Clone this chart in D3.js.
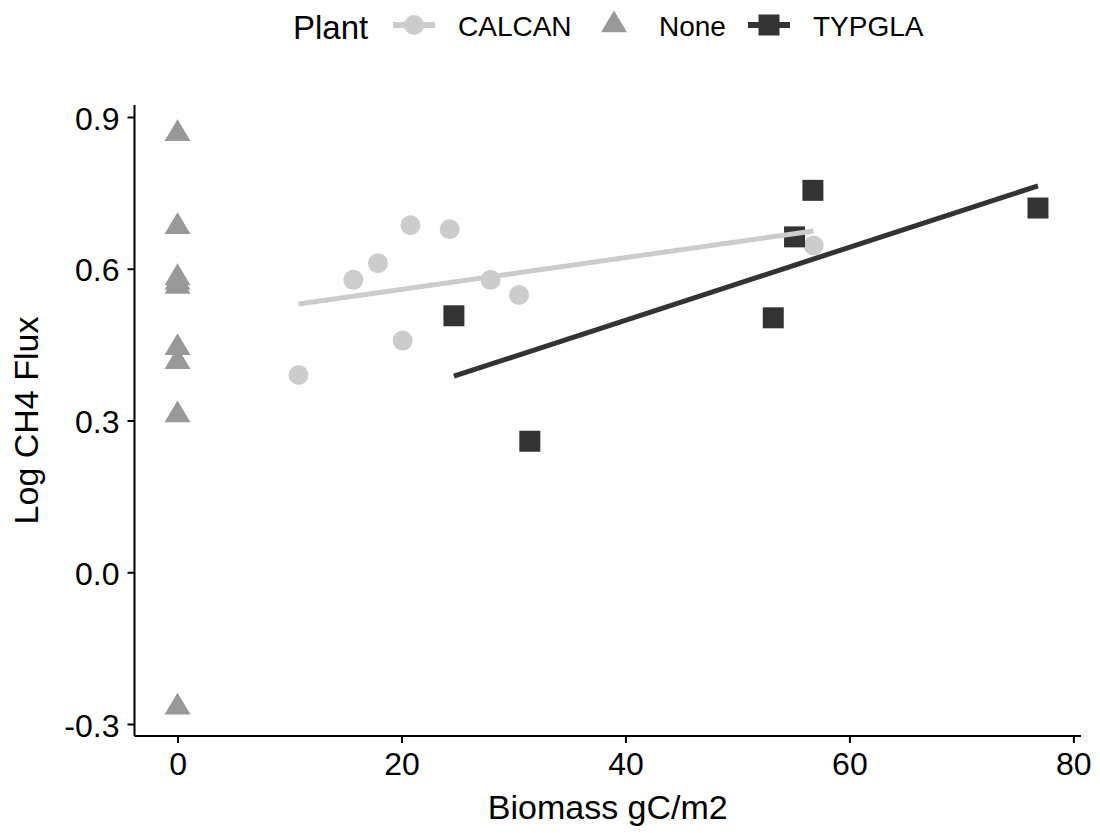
<!DOCTYPE html>
<html>
<head>
<meta charset="utf-8">
<script src="https://cdn.jsdelivr.net/npm/d3@7"></script>
<style>
  html, body { margin: 0; padding: 0; background: #fff; }
  svg text { font-family: "Liberation Sans", Arial, Helvetica, sans-serif; fill: #000; }
</style>
</head>
<body>
<svg id="chart" width="1100" height="833"></svg>
<script>
// Plant groups and their styling keys
const plants = ["CALCAN", "None", "TYPGLA"];
const plantColors = ["#cccccc", "#989898", "#333333"];

// CALCAN observations
const calcanBiomass = [10.8, 15.7, 17.9, 20.1, 20.8, 24.3, 27.96, 30.5, 56.8];
const calcanFlux    = [0.390, 0.578, 0.611, 0.458, 0.686, 0.678, 0.578, 0.548, 0.646];

// Unvegetated (None) observations
const noneBiomass = [0, 0, 0, 0, 0, 0, 0, 0, 0];
const noneFlux    = [0.867, 0.683, 0.582, 0.573, 0.565, 0.444, 0.416, 0.311, -0.267];

// TYPGLA observations
const typglaBiomass = [24.68, 31.46, 53.2, 55.1, 56.74, 76.84];
const typglaFlux    = [0.507, 0.259, 0.503, 0.663, 0.755, 0.720];

// Axis ticks
const xTicks = [0, 20, 40, 60, 80];
const yTicks = [-0.3, 0.0, 0.3, 0.6, 0.9];
const yTickLabels = ["-0.3", "0.0", "0.3", "0.6", "0.9"];

const groups = [
  { name: plants[0], color: plantColors[0], shape: "circle",   xs: calcanBiomass, ys: calcanFlux },
  { name: plants[1], color: plantColors[1], shape: "triangle", xs: noneBiomass,   ys: noneFlux },
  { name: plants[2], color: plantColors[2], shape: "square",   xs: typglaBiomass, ys: typglaFlux }
];

const svg = d3.select("#chart");
const panel = { left: 134.5, right: 1081, top: 105, bottom: 736 };

// Data extents padded by 5% on each side
function padded(vals) {
  const [a, b] = d3.extent(vals);
  const p = (b - a) * 0.05;
  return [a - p, b + p];
}
const allX = [].concat(calcanBiomass, noneBiomass, typglaBiomass);
const allY = [].concat(calcanFlux, noneFlux, typglaFlux);

const x = d3.scaleLinear().domain(padded(allX)).range([panel.left, panel.right]);
const y = d3.scaleLinear().domain(padded(allY)).range([panel.bottom, panel.top]);

// Shape drawing helpers
function shapePath(shape, cx, cy) {
  if (shape === "circle") {
    const r = 10;
    return `M${cx - r},${cy}a${r},${r} 0 1,0 ${2 * r},0a${r},${r} 0 1,0 ${-2 * r},0Z`;
  }
  if (shape === "triangle") {
    const w = 13, up = 14.5, down = 7.3;
    return `M${cx},${cy - up}L${cx + w},${cy + down}L${cx - w},${cy + down}Z`;
  }
  const h = 10.5;
  return `M${cx - h},${cy - h}h${2 * h}v${2 * h}h${-2 * h}Z`;
}

// Points
const pts = svg.append("g");
groups.forEach(g => {
  pts.selectAll(null)
    .data(g.xs.map((v, i) => [v, g.ys[i]]))
    .join("path")
    .attr("d", d => shapePath(g.shape, x(d[0]), y(d[1])))
    .attr("fill", g.color);
});

// Least-squares trend lines over each group's range
function fit(xs, ys) {
  const mx = d3.mean(xs), my = d3.mean(ys);
  const sxx = d3.sum(xs, v => (v - mx) * (v - mx));
  if (sxx === 0) return null;
  const sxy = d3.sum(xs, (v, i) => (v - mx) * (ys[i] - my));
  const b = sxy / sxx, a = my - b * mx;
  const [x0, x1] = d3.extent(xs);
  return [[x0, a + b * x0], [x1, a + b * x1]];
}
const line = d3.line().x(d => x(d[0])).y(d => y(d[1]));
const lines = svg.append("g");
groups.forEach(g => {
  const seg = fit(g.xs, g.ys);
  if (!seg) return;
  lines.append("path")
    .attr("d", line(seg))
    .attr("fill", "none")
    .attr("stroke", g.color)
    .attr("stroke-width", 5);
});

// Axes
const xAxis = d3.axisBottom(x).tickValues(xTicks).tickSize(7).tickPadding(10).tickFormat(d3.format("d"));
const yAxis = d3.axisLeft(y).tickValues(yTicks).tickSize(7).tickPadding(8)
  .tickFormat((d, i) => yTickLabels[i]);

const gx = svg.append("g").attr("transform", `translate(0,${panel.bottom})`).call(xAxis);
const gy = svg.append("g").attr("transform", `translate(${panel.left},0)`).call(yAxis);

[gx, gy].forEach(g => {
  g.select(".domain").remove();
  g.selectAll(".tick line").attr("stroke", "#000").attr("stroke-width", 2);
  g.selectAll(".tick text").style("font-size", "32px").attr("fill", "#1a1a1a");
});
gy.selectAll(".tick text").attr("dy", "0.38em");
gx.selectAll(".tick text").attr("dy", "0.68em");

// Axis lines
svg.append("line")
  .attr("x1", panel.left).attr("x2", panel.right)
  .attr("y1", panel.bottom).attr("y2", panel.bottom)
  .attr("stroke", "#000").attr("stroke-width", 2);
svg.append("line")
  .attr("x1", panel.left).attr("x2", panel.left)
  .attr("y1", panel.top).attr("y2", panel.bottom)
  .attr("stroke", "#000").attr("stroke-width", 2);

// Axis titles
svg.append("text")
  .attr("x", (panel.left + panel.right) / 2).attr("y", 819)
  .attr("text-anchor", "middle")
  .style("font-size", "34px")
  .text("Biomass gC/m2");

svg.append("text")
  .attr("transform", `translate(37.5,${(panel.top + panel.bottom) / 2}) rotate(-90)`)
  .attr("text-anchor", "middle")
  .style("font-size", "34px")
  .text("Log CH4 Flux");

// Legend
const legend = svg.append("g");
legend.append("text").attr("x", 293).attr("y", 38.5).style("font-size", "33px").text("Plant");

const keyX = [414, 614, 769];
const labelX = [458, 659, 813];
const keyY = 25;
groups.forEach((g, i) => {
  const seg = fit(g.xs, g.ys);
  if (seg) {
    legend.append("line")
      .attr("x1", keyX[i] - 21).attr("x2", keyX[i] + 21)
      .attr("y1", keyY).attr("y2", keyY)
      .attr("stroke", g.color).attr("stroke-width", 6);
  }
  legend.append("path").attr("d", shapePath(g.shape, keyX[i], keyY)).attr("fill", g.color);
  legend.append("text")
    .attr("x", labelX[i]).attr("y", 35.5)
    .style("font-size", "28px")
    .attr("fill", "#1a1a1a")
    .text(g.name);
});
</script>
</body>
</html>
